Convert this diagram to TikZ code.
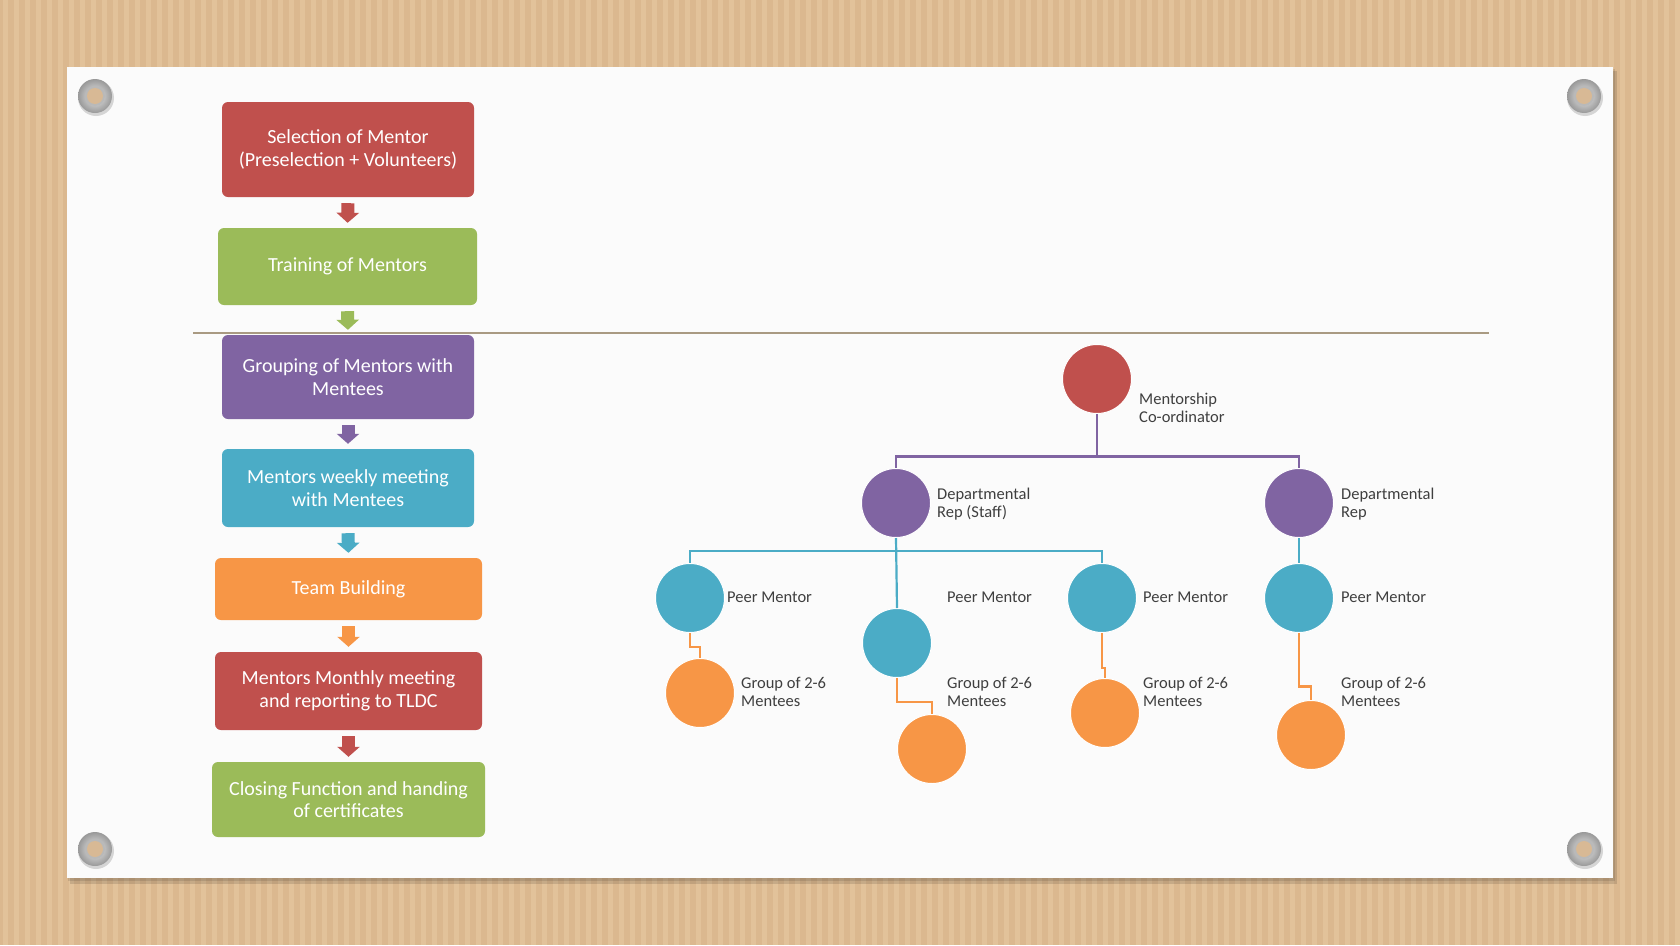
\documentclass[tikz,border=0pt]{standalone}
\usepackage{fontspec}
\setmainfont{Carlito}
\usepackage{xcolor}
\usepackage{tikz}
\usetikzlibrary{arrows.meta}
\definecolor{ored}{HTML}{C0504D}
\definecolor{ogreen}{HTML}{9BBB59}
\definecolor{opurple}{HTML}{8064A2}
\definecolor{oblue}{HTML}{4BACC6}
\definecolor{oorange}{HTML}{F79646}
\definecolor{wood}{HTML}{E2C29A}
\definecolor{woodline}{HTML}{CFA87B}
\definecolor{rulecol}{HTML}{A99A82}
\definecolor{labelcol}{HTML}{3F3F3F}
\tikzset{
    % Flow chart styles
    stepbox/.style={rectangle, rounded corners=6pt, text=white, align=center, inner sep=0pt, font=\fontsize{20}{22.5}\selectfont},
    flowarrow/.style={line width=13pt, -{Triangle[width=22pt, length=10pt]}, shorten <=6pt, shorten >=5pt},
    % Org chart styles
    member/.style={circle, draw=white, line width=1pt, minimum size=69pt, inner sep=0pt},
    link/.style={line width=2.2pt},
    tag/.style={anchor=west, align=left, inner sep=0pt, text=labelcol, font=\fontsize{16.5}{18.5}\selectfont},
    rule/.style={line width=2pt, rulecol}
}

\begin{document}
\begin{tikzpicture}[x=1pt, y=-1pt]
    \useasboundingbox (0,0) rectangle (1680,945);

    % Wood background
    \fill[wood] (0,0) rectangle (1680,945);
    \foreach \sx in {0,11,...,1680} {
        \draw[woodline, line width=5.5pt, opacity=0.35] (\sx,0) -- (\sx,945);
    }

    % Paper with shadow
    \fill[black, opacity=0.12] (70,71) rectangle (1617,884);
    \fill[black, opacity=0.10] (68,69) rectangle (1615,881);
    \fill[white!97!gray] (67,67) rectangle (1613,878);

    % Grommets
    \foreach \gx/\gy in {95/96, 1584/96, 95/849, 1584/849} {
        \fill[black, opacity=0.15] (\gx+1,\gy+2) circle (18);
        \shade[inner color=gray!15, outer color=gray!80] (\gx,\gy) circle (17);
        \fill[gray!55] (\gx,\gy) circle (10);
        \fill[woodline!80!white] (\gx,\gy) circle (8);
    }

    % Divider line
    \draw[rule] (193,333) -- (1489,333);

    % Flow chart steps
    \node[stepbox, fill=ored, minimum width=252, minimum height=95] (sel) at (348,149.5) {Selection of Mentor\\(Preselection + Volunteers)};
    \node[stepbox, fill=ogreen, minimum width=259, minimum height=77] (train) at (347.5,266.5) {Training of Mentors};
    \node[stepbox, fill=opurple, minimum width=252, minimum height=84] (group) at (348,377) {Grouping of Mentors with\\Mentees};
    \node[stepbox, fill=oblue, minimum width=252, minimum height=78] (weekly) at (348,488) {Mentors weekly meeting\\with Mentees};
    \node[stepbox, fill=oorange, minimum width=267, minimum height=62] (team) at (348.5,589) {Team Building};
    \node[stepbox, fill=ored, minimum width=267, minimum height=78] (monthly) at (348.5,691) {Mentors Monthly meeting\\and reporting to TLDC};
    \node[stepbox, fill=ogreen, minimum width=273, minimum height=75] (closing) at (348.5,799.5) {Closing Function and handing\\of certificates};

    % Arrows between steps
    \draw[flowarrow, ored] (sel.south) -- (train.north);
    \draw[flowarrow, ogreen] (train.south) -- (group.north);
    \draw[flowarrow, opurple] (group.south) -- (weekly.north);
    \draw[flowarrow, oblue] (weekly.south) -- (team.north);
    \draw[flowarrow, oorange] (team.south) -- (monthly.north);
    \draw[flowarrow, ored] (monthly.south) -- (closing.north);

    % Org chart members
    \node[member, fill=ored] (coord) at (1097,379) {};
    \node[member, fill=opurple] (dstaff) at (896,503) {};
    \node[member, fill=opurple] (drep) at (1299,503) {};
    \node[member, fill=oblue] (peerA) at (690,598) {};
    \node[member, fill=oblue] (peerB) at (897,643) {};
    \node[member, fill=oblue] (peerC) at (1102,598) {};
    \node[member, fill=oblue] (peerD) at (1299,598) {};
    \node[member, fill=oorange] (menA) at (700,693) {};
    \node[member, fill=oorange] (menB) at (932,749) {};
    \node[member, fill=oorange] (menC) at (1105,713) {};
    \node[member, fill=oorange] (menD) at (1311,735) {};

    % Org chart labels
    \node[tag] (tcoord) at (1139,408) {Mentorship\\Co-ordinator};
    \node[tag] (tdstaff) at (937,504) {Departmental\\Rep (Staff)};
    \node[tag] (tdrep) at (1341,504) {Departmental\\Rep};
    \node[tag] (tpeerA) at (727,597) {Peer Mentor};
    \node[tag] (tpeerB) at (947,597) {Peer Mentor};
    \node[tag] (tpeerC) at (1143,597) {Peer Mentor};
    \node[tag] (tpeerD) at (1341,597) {Peer Mentor};
    \node[tag] (tmenA) at (741,692) {Group of 2-6\\Mentees};
    \node[tag] (tmenB) at (947,692) {Group of 2-6\\Mentees};
    \node[tag] (tmenC) at (1143,692) {Group of 2-6\\Mentees};
    \node[tag] (tmenD) at (1341,692) {Group of 2-6\\Mentees};

    % Org chart links
    \draw[link, opurple] (coord.south) -- ++(0,42.5) -| (dstaff.north);
    \draw[link, opurple] (coord.south) -- ++(0,42.5) -| (drep.north);
    \draw[link, oblue] (dstaff.south) -- ++(0,13) -| (peerA.north);
    \draw[link, oblue] (dstaff.south) -- ++(0,13) -| (peerC.north);
    \draw[link, oblue] (dstaff.south) -- (peerB.north);
    \draw[link, oblue] (drep.south) -- (peerD.north);
    \draw[link, oorange] (peerA.south) -- ++(0,14) -| (menA.north);
    \draw[link, oorange] (peerB.south) -- ++(0,24) -| (menB.north);
    \draw[link, oorange] (peerC.south) -- ++(0,35) -| (menC.north);
    \draw[link, oorange] (peerD.south) -- ++(0,53.5) -| (menD.north);
\end{tikzpicture}
\end{document}
